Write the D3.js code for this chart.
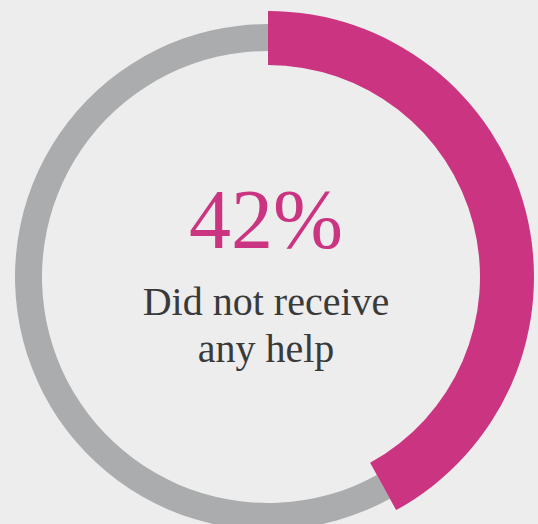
<!DOCTYPE html>
<html>
<head>
<meta charset="utf-8">
<script src="https://cdn.jsdelivr.net/npm/d3@7"></script>
<style>
  html, body { margin: 0; padding: 0; background: #ededed; }
  svg { display: block; }
</style>
</head>
<body>
<svg id="chart" width="538" height="524"></svg>
<script>
const categories = ["Did not receive any help", "Received help"];
const values = [42, 58];
const labelValue = "42%";
const labelLines = ["Did not receive", "any help"];

const svg = d3.select("#chart");
svg.append("rect").attr("width", 538).attr("height", 524).attr("fill", "#ededed");

const g = svg.append("g").attr("transform", "translate(268,277)");

const pie = d3.pie().sort(null).value(d => d.value);
const slices = pie(categories.map((c, i) => ({ name: c, value: values[i] })));

const radii = [
  { inner: 212, outer: 266, color: "#cb3481" },
  { inner: 226, outer: 253, color: "#aaacae" }
];

// draw the gray track first, then the highlighted slice on top
[1, 0].forEach(i => {
  const arc = d3.arc().innerRadius(radii[i].inner).outerRadius(radii[i].outer);
  g.append("path")
    .attr("d", arc(slices[i]))
    .attr("fill", radii[i].color);
});

g.append("text")
  .attr("x", -2)
  .attr("y", -29)
  .attr("text-anchor", "middle")
  .attr("font-family", "'Liberation Serif', serif")
  .attr("font-size", 84)
  .attr("fill", "#cb3481")
  .text(labelValue);

labelLines.forEach((t, i) => {
  g.append("text")
    .attr("x", -2)
    .attr("y", 38 + i * 47)
    .attr("text-anchor", "middle")
    .attr("font-family", "'Liberation Serif', serif")
    .attr("font-size", 40)
    .attr("fill", "#3a3a3a")
    .text(t);
});
</script>
</body>
</html>
